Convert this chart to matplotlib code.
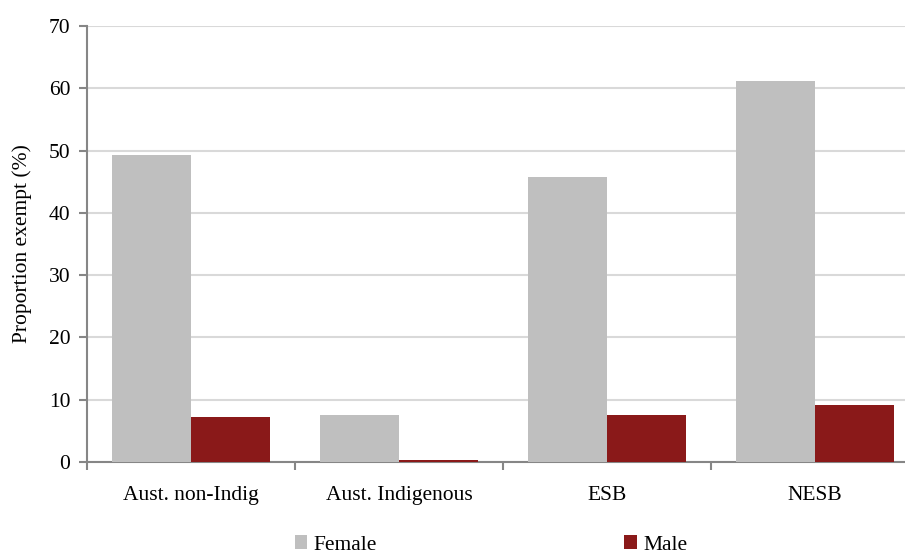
import matplotlib
matplotlib.use("Agg")
import matplotlib.pyplot as plt
import numpy as np
from matplotlib.patches import Patch

categories = ["Aust. non-Indig", "Aust. Indigenous", "ESB", "NESB"]
female = [49.3, 7.5, 45.8, 61.2]
male = [7.3, 0.3, 7.6, 9.2]
yticks = [0, 10, 20, 30, 40, 50, 60, 70]

plt.rcParams["font.family"] = ["Liberation Serif", "DejaVu Serif"]
FS = 15.5
GREY = "#bfbfbf"
RED = "#8a1919"
AXIS = "#868686"

fig = plt.figure(figsize=(9.05, 5.55), dpi=100)
W, H = 905, 555
ax = fig.add_axes([87 / W, 93 / H, (919 - 87) / W, (462 - 26) / H])

x = np.arange(len(categories))
bw = 0.382
ax.bar(x - bw / 2, female, width=bw, color=GREY, zorder=3, label="Female")
ax.bar(x + bw / 2, male, width=bw, color=RED, zorder=3, label="Male")

ax.set_xlim(-0.5, len(categories) - 0.5)
ax.set_ylim(0, 70)
ax.set_yticks(yticks)
ax.yaxis.grid(True, color="#d9d9d9", linewidth=1.5, zorder=0)
ax.set_axisbelow(True)

ax.set_xticks(np.arange(len(categories) + 1) - 0.5)
ax.set_xticklabels([])
ax.set_xticks(x, minor=True)
ax.set_xticklabels(categories, minor=True, fontsize=FS)
ax.tick_params(axis="x", which="minor", length=0, pad=17)
ax.tick_params(axis="x", which="major", length=6, width=1.5, color=AXIS, direction="out")
ax.tick_params(axis="y", length=6, width=1.5, color=AXIS, direction="out", labelsize=FS, pad=6)

for s in ["top", "right"]:
    ax.spines[s].set_visible(False)
for s in ["left", "bottom"]:
    ax.spines[s].set_color(AXIS)
    ax.spines[s].set_linewidth(1.5)

ax.set_ylabel("Proportion exempt (%)", fontsize=FS, labelpad=12)

handles = [Patch(facecolor=GREY, label="Female"), Patch(facecolor=RED, label="Male")]
fig.legend(handles=handles, loc="center", bbox_to_anchor=(491 / W, 1 - 545 / H),
           ncol=2, frameon=False, fontsize=FS, handlelength=0.58, handleheight=0.58,
           handletextpad=0.3, columnspacing=11.5)

fig.savefig("out.png", dpi=100)
